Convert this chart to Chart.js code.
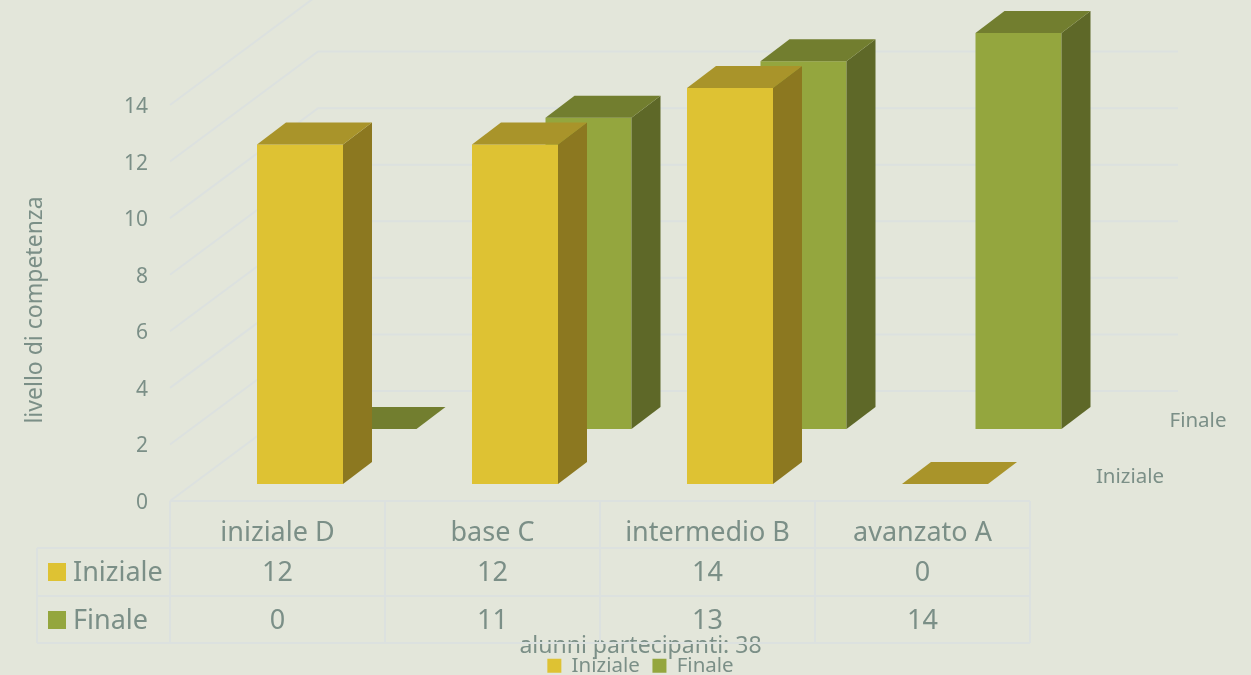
<!DOCTYPE html>
<html><head><meta charset="utf-8">
<style>html,body{margin:0;padding:0;background:#E3E6DA}canvas{display:block}</style>
<script src="https://cdn.jsdelivr.net/npm/chart.js@4/dist/chart.umd.min.js"></script>
</head><body>
<div style="width:1251px;height:675px"><canvas id="c"></canvas></div>
<script>
const categories = ["iniziale D","base C","intermedio B","avanzato A"];
const iniziale = [12,12,14,0];
const finale = [0,11,13,14];
const seriesNames = ["Iniziale","Finale"];
const yTitle = "livello di competenza";
const footer = "alunni partecipanti: 38";

const TXT='#7B8F87', GRID='#DCE1DF', F='"Noto Sans", sans-serif';
const DEPTH={x:29,y:22};
const LABEL_DROP=2;
const shift=[{x:22.5,y:-19},{x:96,y:-74}];
const faces=[{top:'#A9942A',side:'#8C7820'},{top:'#727E2F',side:'#5E6828'}];

function poly(ctx,pts,fill){ctx.fillStyle=fill;ctx.beginPath();pts.forEach((p,i)=>i?ctx.lineTo(p[0],p[1]):ctx.moveTo(p[0],p[1]));ctx.closePath();ctx.fill();}

const bars3d={id:'bars3d',
 beforeDatasetDraw(chart,args){const s=shift[args.index];chart.ctx.save();chart.ctx.translate(s.x,s.y);},
 afterDatasetDraw(chart,args){const ctx=chart.ctx;ctx.restore();const s=shift[args.index],f=faces[args.index];
  args.meta.data.forEach(b=>{const p=b.getProps(['x','y','base','width'],true);
   const l=p.x-p.width/2+s.x,r=p.x+p.width/2+s.x,t=p.y+s.y,bt=p.base+s.y;
   poly(ctx,[[r,t],[r+DEPTH.x,t-DEPTH.y],[r+DEPTH.x,bt-DEPTH.y],[r,bt]],f.side);
   poly(ctx,[[l,t],[l+DEPTH.x,t-DEPTH.y],[r+DEPTH.x,t-DEPTH.y],[r,t]],f.top);
  });}
};
const backdrop={id:'backdrop',
 beforeDatasetsDraw(chart){const ctx=chart.ctx,y=chart.scales.y,x=chart.scales.x,a=chart.chartArea;
  ctx.save();ctx.strokeStyle=GRID;ctx.lineWidth=2;
  const wx=148,wy=110,floor=a.bottom-LABEL_DROP;
  y.ticks.forEach(t=>{const py=y.getPixelForValue(t.value)-LABEL_DROP;ctx.beginPath();ctx.moveTo(a.left,py);ctx.lineTo(a.left+wx,py-wy);ctx.lineTo(a.right+wx,py-wy);ctx.stroke();});
  const rows=[floor,floor+47,floor+95,floor+142];
  ctx.beginPath();
  rows.forEach((r,i)=>{ctx.moveTo(i?37:a.left,r);ctx.lineTo(a.right,r);});
  const w=(a.right-a.left)/categories.length;
  for(let i=0;i<=categories.length;i++){ctx.moveTo(a.left+i*w,floor);ctx.lineTo(a.left+i*w,rows[3]);}
  ctx.moveTo(37,rows[1]);ctx.lineTo(37,rows[3]);
  ctx.stroke();
  ctx.fillStyle=TXT;ctx.textBaseline='middle';ctx.textAlign='center';ctx.font='27px '+F;
  [iniziale,finale].forEach((vals,r)=>{vals.forEach((v,i)=>ctx.fillText(String(v),x.getPixelForTick(i),rows[r+1]+25));});
  ctx.textAlign='left';
  chart.data.datasets.forEach((d,r)=>{const cy=rows[r+1]+25;ctx.fillStyle=d.backgroundColor;ctx.fillRect(48,cy-10,18,18);ctx.fillStyle=TXT;ctx.fillText(d.label,73,cy);});
  ctx.textAlign='center';ctx.font='20.5px '+F;
  ctx.fillText(seriesNames[1],1198,421);ctx.fillText(seriesNames[0],1130,477);
  ctx.save();ctx.translate(35,310);ctx.rotate(-Math.PI/2);ctx.font='23px '+F;ctx.fillText(yTitle,0,0);ctx.restore();
  ctx.restore();}
};

const LEGEND_DROP=11;
new Chart(document.getElementById('c'),{
 type:'bar',
 data:{labels:categories,datasets:[
  {label:seriesNames[0],data:iniziale,backgroundColor:'#DEC233',order:1,grouped:false,categoryPercentage:1,barPercentage:0.4},
  {label:seriesNames[1],data:finale,backgroundColor:'#94A63E',order:2,grouped:false,categoryPercentage:1,barPercentage:0.4}
 ]},
 plugins:[backdrop,bars3d],
 options:{responsive:true,maintainAspectRatio:false,animation:false,
  layout:{padding:{top:107,left:30,right:0,bottom:-LEGEND_DROP}},
  scales:{
   x:{grid:{display:false,drawTicks:false},border:{display:false},
      ticks:{color:TXT,font:{family:F,size:27},padding:14,maxRotation:0},
      afterFit(s){const c=s.chart;s.height=c.height+LEGEND_DROP-503-(c.legend?c.legend.height:0)-(c.titleBlock?c.titleBlock.height:0);}},
   y:{min:0,max:14,grid:{display:false,drawTicks:false},border:{display:false},
      ticks:{stepSize:2,color:TXT,font:{family:F,size:21},padding:22},
      afterFit(s){s.width=140;}},
   side:{position:'right',min:0,max:14,display:true,grid:{display:false,drawTicks:false},border:{display:false},ticks:{display:false},afterFit(s){s.width=221;}}
  },
  plugins:{
   tooltip:{enabled:false},
   title:{display:true,position:'bottom',weight:500,text:footer,color:TXT,font:{family:F,size:23,weight:'normal',lineHeight:'22px'},padding:{top:4,bottom:-4}},
   legend:{display:true,position:'bottom',weight:1000,labels:{color:TXT,font:{family:F,size:20.5},boxWidth:14,boxHeight:14,padding:2,
     generateLabels(chart){return Chart.defaults.plugins.legend.labels.generateLabels(chart).map((it,i)=>({...it,text:i===0?it.text+'\u00A0\u00A0':it.text}));}}}
  }
 }
});
</script></body></html>
